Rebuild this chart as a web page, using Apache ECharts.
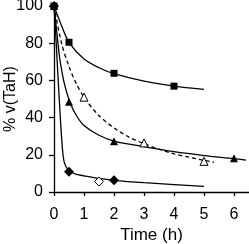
<!DOCTYPE html>
<html>
<head>
<meta charset="utf-8">
<script src="https://cdn.jsdelivr.net/npm/echarts@6/dist/echarts.min.js"></script>
<style>html,body{margin:0;padding:0;background:#fff}#c{width:249px;height:244px}</style>
</head>
<body>
<div id="c"></div>
<script>
// Tick labels
const xTicks = [0, 1, 2, 3, 4, 5, 6];
const yTicks = [0, 20, 40, 60, 80, 100];

// Measured points
const sqX = [0, 0.5, 2, 4];
const sqY = [100, 80.5, 63.8, 56.9];
const triX = [0, 0.5, 2, 6];
const triY = [100, 48.5, 27.3, 18.2];
const triOpenX = [1, 3, 5];
const triOpenY = [51, 26.4, 16.5];
const diaX = [0, 0.5, 2];
const diaY = [100, 10.9, 6.3];
const diaOpenX = [1.5];
const diaOpenY = [5.6];

// Fitted curves
const sqCurveX = [0, 0.25, 0.5, 1, 1.5, 2, 3, 4, 5];
const sqCurveY = [100, 89.5, 80.5, 71.5, 66.8, 63.6, 59.6, 56.9, 55.2];
const triCurveX = [0, 0.1, 0.18, 0.25, 0.35, 0.53, 0.75, 1, 1.5, 2, 3, 4, 5, 6, 6.4];
const triCurveY = [100, 85, 73, 66, 58, 48.3, 41, 35.8, 30.5, 27.4, 24.4, 21.7, 19.6, 17.9, 17.1];
const dashCurveX = [0, 0.25, 0.5, 0.75, 1, 1.5, 2, 2.5, 3, 3.5, 4, 4.5, 5, 5.33];
const dashCurveY = [100, 80, 67.5, 58, 51, 41, 34.5, 29.5, 26, 23, 20.5, 18.7, 17, 16];
const diaCurveX = [0, 0.05, 0.1, 0.15, 0.2, 0.25, 0.3, 0.35, 0.45, 0.55, 0.75, 1, 1.5, 2, 3, 4, 5];
const diaCurveY = [100, 87, 72, 57, 43, 30, 20, 15.5, 12.3, 10.9, 9.5, 8.7, 7.3, 6.3, 5, 4, 3];

const zip = (xs, ys) => xs.map((x, i) => [x, ys[i]]);
const font = 'Liberation Sans';

function curve(xs, ys, dashed) {
  return {
    type: 'line', data: zip(xs, ys), showSymbol: false, smooth: 0.3,
    lineStyle: { color: '#000', width: 1.3, type: dashed ? [4, 3] : 'solid' },
    z: 2, silent: true, animation: false
  };
}
function marks(xs, ys, symbol, size, open) {
  return {
    type: 'scatter', data: zip(xs, ys), symbol: symbol, symbolSize: size,
    itemStyle: { color: open ? '#fff' : '#000', borderColor: '#000', borderWidth: open ? 1 : 0, opacity: 1 },
    z: 5, silent: true, animation: false
  };
}

const chart = echarts.init(document.getElementById('c'), null, { renderer: 'canvas' });
chart.setOption({
  animation: false,
  grid: { left: 54, right: 0, top: 6, bottom: 52, containLabel: false, outerBoundsMode: 'none' },
  xAxis: {
    type: 'value', min: 0, max: 6.5,
    name: 'Time (h)', nameLocation: 'middle', nameGap: 35, nameMoveOverlap: false,
    nameTextStyle: { fontFamily: font, fontSize: 17, color: '#000' },
    axisLine: { show: true, lineStyle: { color: '#000', width: 1.3 } },
    axisTick: { show: true, length: 4, inside: false, customValues: xTicks, lineStyle: { color: '#000', width: 1.3 } },
    axisLabel: { customValues: xTicks, margin: 15, fontFamily: font, fontSize: 16, color: '#000' },
    splitLine: { show: false }
  },
  yAxis: {
    type: 'value', min: 0, max: 100, interval: 20,
    name: '% v(TaH)', nameLocation: 'middle', nameGap: 35, nameMoveOverlap: false,
    nameTextStyle: { fontFamily: font, fontSize: 16, color: '#000' },
    axisLine: { show: true, lineStyle: { color: '#000', width: 1.3 } },
    axisTick: { show: true, length: 5, inside: false, lineStyle: { color: '#000', width: 1.3 } },
    axisLabel: { margin: 11, fontFamily: font, fontSize: 16, color: '#000',
      formatter: v => yTicks.includes(v) ? String(v) : '' },
    splitLine: { show: false }
  },
  series: [
    curve(sqCurveX, sqCurveY, false),
    curve(triCurveX, triCurveY, false),
    curve(dashCurveX, dashCurveY, true),
    curve(diaCurveX, diaCurveY, false),
    marks(sqX, sqY, 'rect', 7, false),
    marks(triX, triY, 'triangle', 8, false),
    marks(triOpenX, triOpenY, 'triangle', 8, true),
    marks(diaX, diaY, 'diamond', 10, false),
    marks(diaOpenX, diaOpenY, 'diamond', 9, true)
  ]
});
</script>
</body>
</html>
